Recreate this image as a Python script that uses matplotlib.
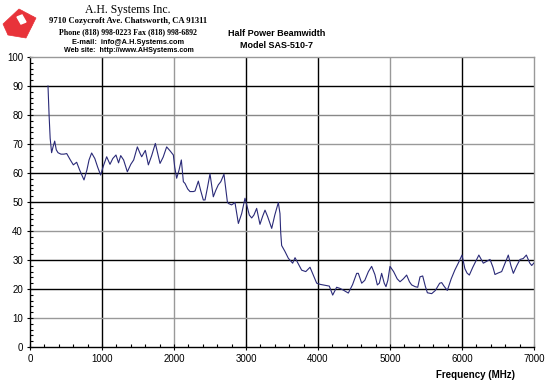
import matplotlib
matplotlib.use("Agg")
import matplotlib.pyplot as plt
from matplotlib.patches import Polygon
from matplotlib.ticker import MultipleLocator

freq = [250, 265, 280, 300, 320, 343, 365, 389, 430, 470, 510, 560, 602, 648, 690, 750, 790, 820, 856, 900,
        940, 981, 1020, 1065, 1111, 1150, 1194, 1230, 1260, 1300, 1352, 1400, 1440, 1491, 1528, 1551, 1602, 1644,
        1690, 1741, 1806, 1850, 1898, 1950, 1991, 2010, 2037, 2070, 2102, 2130, 2153, 2190, 2222, 2269, 2292,
        2338, 2370, 2407, 2431, 2465, 2500, 2546, 2580, 2615, 2650, 2694, 2741, 2755, 2800, 2847, 2894, 2940,
        2986, 3046, 3079, 3110, 3148, 3194, 3230, 3264, 3300, 3357, 3400, 3449, 3472, 3482, 3495, 3540, 3588,
        3648, 3681, 3730, 3773, 3830, 3889, 3940, 3982, 4030, 4074, 4157, 4204, 4259, 4306, 4360, 4421, 4480,
        4537, 4560, 4607, 4650, 4700, 4745, 4790, 4824, 4852, 4884, 4920, 4944, 4970, 5000, 5050, 5100, 5139,
        5185, 5231, 5270, 5301, 5350, 5385, 5417, 5454, 5490, 5519, 5579, 5630, 5690, 5718, 5750, 5796, 5850,
        5900, 5950, 6000, 6040, 6070, 6102, 6150, 6200, 6234, 6296, 6340, 6389, 6430, 6458, 6500, 6551, 6600,
        6643, 6680, 6713, 6760, 6806, 6850, 6894, 6940, 6968, 7000]
beamwidth = [90, 80, 72, 67, 69, 71, 68, 67, 66.5, 66.5, 66.7, 64.5, 62.8, 63.7, 61, 57.6, 61, 64.5, 66.9, 65,
             62, 59.3, 62.5, 65.6, 63, 65, 66.2, 63.5, 66, 64.5, 60.4, 63, 64.5, 69, 66.8, 65.6, 67.8, 62.8,
             66, 70.2, 63.3, 65.5, 69, 67.5, 66.2, 62, 58.2, 61, 64.5, 57, 56.4, 54.5, 53.6, 53.6, 53.8,
             57.2, 54, 50.7, 50.7, 55, 59.7, 51.8, 54, 55.9, 57, 59.6, 50.1, 49.5, 49, 49.8, 42.6, 46,
             51.3, 45.5, 44.5, 45.5, 47.8, 42.3, 45, 47.2, 45, 40.9, 45.5, 49.8, 46, 39.5, 35, 33, 30.6,
             28.9, 30.8, 28.5, 26.5, 26, 27.5, 24.5, 22, 21.6, 21.4, 21, 17.9, 20.6, 20.2, 19.5, 18.6, 21.5,
             25.4, 25.4, 22, 23, 26, 27.8, 25, 21.4, 22, 25.4, 22, 20.8, 23, 27.8, 26, 23.5, 22.5,
             23.5, 24.8, 22.5, 21.4, 20.8, 20.6, 24.2, 24.5, 21, 18.7, 18.4, 19.5, 22, 22.2, 21, 19.5, 23.5,
             26.5, 29, 31.7, 27, 25.5, 24.8, 27.5, 30, 31.7, 28.9, 29.5, 30.2, 27.5, 25, 25.5, 26, 29,
             31.7, 28, 25.4, 28, 30.2, 30.5, 31.7, 29, 28.1, 29]

x_ticks = [0, 1000, 2000, 3000, 4000, 5000, 6000, 7000]
y_ticks = [0, 10, 20, 30, 40, 50, 60, 70, 80, 90, 100]

W, H = 550, 389
fig = plt.figure(figsize=(W / 100, H / 100), dpi=100)
fig.patch.set_facecolor("white")

ax = fig.add_axes([30 / W, (H - 347) / H, (534 - 30) / W, (347 - 57) / H])
ax.set_xlim(0, 7000)
ax.set_ylim(0, 100)

vcol = {1000: "#000000", 2000: "#999999", 3000: "#000000", 4000: "#000000", 5000: "#999999", 6000: "#000000"}
hcol = {10: "#999999", 20: "#000000", 30: "#000000", 40: "#999999", 50: "#000000",
        60: "#000000", 70: "#999999", 80: "#888888", 90: "#000000"}
for xv, c in vcol.items():
    ax.axvline(xv, color=c, lw=1.0, zorder=1)
for yv, c in hcol.items():
    ax.axhline(yv, color=c, lw=1.0, zorder=1)

ax.plot(freq, beamwidth, color="#2a2a78", lw=0.8, zorder=3)

for s in ["top", "right"]:
    ax.spines[s].set_color("#999999")
for s in ["left", "bottom"]:
    ax.spines[s].set_color("#000000")
for s in ax.spines.values():
    s.set_linewidth(1.0)

ax.set_xticks(x_ticks)
ax.set_yticks(y_ticks)
ax.xaxis.set_minor_locator(MultipleLocator(200))
ax.yaxis.set_minor_locator(MultipleLocator(2))
ax.tick_params(which="major", length=4, width=0.8, direction="inout", labelsize=7, pad=3)
ax.tick_params(which="minor", length=2.5, width=0.8, direction="in")
for lbl in ax.get_xticklabels() + ax.get_yticklabels():
    lbl.set_family("Liberation Sans")

fig.text(475 / W, 1 - 375 / H, "Frequency (MHz)", ha="center", va="center",
         fontsize=7, fontweight="bold", family="Liberation Sans")
fig.text(277 / W, 1 - 33 / H, "Half Power Beamwidth", ha="center", va="center",
         fontsize=6.5, fontweight="bold", family="Liberation Sans")
fig.text(277 / W, 1 - 45 / H, "Model SAS-510-7", ha="center", va="center",
         fontsize=6.5, fontweight="bold", family="Liberation Sans")

# Header text
fig.text(128 / W, 1 - 10 / H, "A.H. Systems Inc.", ha="center", va="center",
         fontsize=8.5, family="Liberation Serif")
fig.text(128 / W, 1 - 21 / H, "9710 Cozycroft Ave. Chatsworth, CA 91311", ha="center", va="center",
         fontsize=6.2, fontweight="bold", family="Liberation Serif")
fig.text(128 / W, 1 - 32 / H, "Phone (818) 998-0223 Fax (818) 998-6892", ha="center", va="center",
         fontsize=5.7, fontweight="bold", family="Liberation Serif")
fig.text(128 / W, 1 - 42 / H, "E-mail:  info@A.H.Systems.com", ha="center", va="center",
         fontsize=5.3, fontweight="bold", family="Liberation Sans")
fig.text(129 / W, 1 - 51 / H, "Web site:  http://www.AHSystems.com", ha="center", va="center",
         fontsize=5.1, fontweight="bold", family="Liberation Sans")

# Logo
lax = fig.add_axes([0, 1 - 40 / H, 40 / W, 35 / H])
lax.set_xlim(0, 40)
lax.set_ylim(35, 0)
lax.axis("off")
lax.add_patch(Polygon([[3, 19], [19, 4], [36, 13], [26, 33], [8, 30]], closed=True,
                      facecolor="#e8333a", edgecolor="#e8333a", hatch="////", lw=0.5))
lax.add_patch(Polygon([[17, 12], [22, 10], [26, 17], [21, 19]], closed=True,
                      facecolor="white", edgecolor="white"))

fig.savefig("out.png", dpi=100, facecolor="white")
